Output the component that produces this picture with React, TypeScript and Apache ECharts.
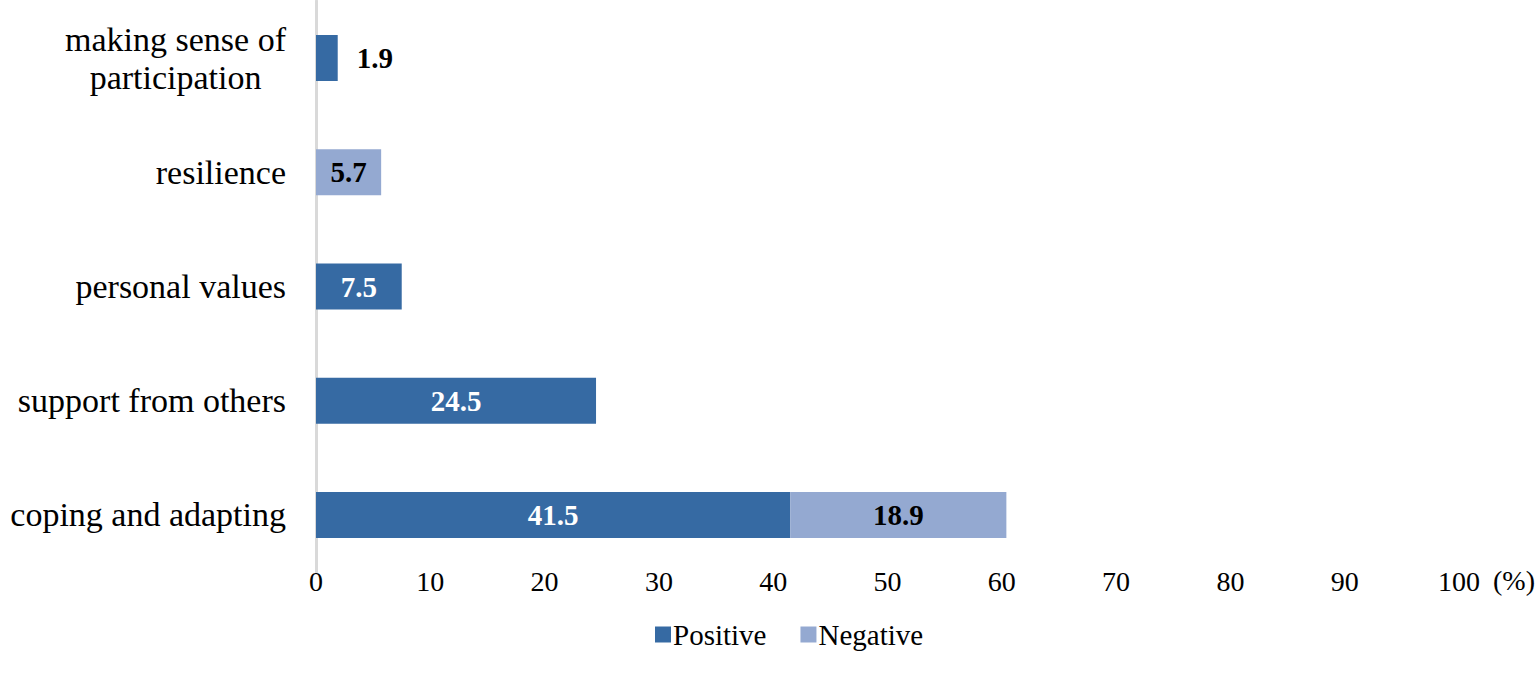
import React, { useEffect, useRef } from "react";
import * as echarts from "echarts";

const categories = [
  "making sense of\nparticipation",
  "resilience",
  "personal values",
  "support from others",
  "coping and adapting",
];
const positiveValues: (number | null)[] = [1.9, null, 7.5, 24.5, 41.5];
const negativeValues: (number | null)[] = [null, 5.7, null, null, 18.9];
const outsideLabelIndex = [0];
const seriesNames = ["Positive", "Negative"];
const unitLabel = "(%)";

const FONT = "'Liberation Serif', 'Times New Roman', Times, serif";
const DARK = "#366aa3";
const LIGHT = "#94a9d1";

export default function App() {
  const ref = useRef<HTMLDivElement>(null);
  useEffect(() => {
    document.body.style.margin = "0";
    const chart = echarts.init(ref.current!, null, { renderer: "svg" });
    const posData = positiveValues.map((v, i) =>
      v == null
        ? "-"
        : outsideLabelIndex.includes(i)
        ? { value: v, label: { position: "right", color: "#000", distance: 19 } }
        : v
    );
    const negData = negativeValues.map((v) => (v == null ? "-" : v));
    chart.setOption({
      animation: false,
      backgroundColor: "#fff",
      textStyle: { fontFamily: FONT },
      grid: { left: 316, right: 78, top: 1, bottom: 103, containLabel: false },
      legend: {
        data: seriesNames,
        left: 650,
        top: 615,
        itemWidth: 16,
        itemHeight: 16,
        itemGap: 34,
        icon: "rect",
        textStyle: { fontFamily: FONT, fontSize: 29, color: "#000", padding: [0, 0, 0, -3] },
      },
      graphic: [
        {
          type: "text",
          left: 1493,
          top: 566,
          style: {
            text: unitLabel,
            fontFamily: FONT,
            fontSize: 28,
            fill: "#000",
          },
        },
      ],
      xAxis: {
        type: "value",
        min: 0,
        max: 100,
        interval: 10,
        axisLine: { show: false },
        axisTick: { show: false },
        splitLine: { show: false },
        axisLabel: { fontFamily: FONT, fontSize: 28, color: "#000", margin: -5 },
      },
      yAxis: {
        type: "category",
        data: categories,
        inverse: true,
        axisLine: { show: true, lineStyle: { color: "#d9d9d9", width: 3 } },
        axisTick: { show: false },
        axisLabel: {
          margin: 30,
          color: "#000",
          formatter: (v: string) =>
            v
              .split("\n")
              .map((l) => `{c|${l}}`)
              .join("\n"),
          rich: {
            c: {
              align: "center",
              fontFamily: FONT,
              fontSize: 34,
              lineHeight: 38,
              color: "#000",
            },
          },
        },
      },
      series: [
        {
          name: seriesNames[0],
          type: "bar",
          stack: "total",
          barWidth: 46,
          data: posData,
          itemStyle: { color: DARK },
          label: {
            show: true,
            position: "inside",
            color: "#fff",
            fontFamily: FONT,
            fontSize: 29,
            fontWeight: "bold",
          },
        },
        {
          name: seriesNames[1],
          type: "bar",
          stack: "total",
          barWidth: 46,
          data: negData,
          itemStyle: { color: LIGHT },
          label: {
            show: true,
            position: "inside",
            color: "#000",
            fontFamily: FONT,
            fontSize: 29,
            fontWeight: "bold",
          },
        },
      ],
    });
    return () => chart.dispose();
  }, []);
  return (
    <div
      ref={ref}
      style={{ position: "fixed", left: 0, top: 0, width: 1537, height: 675 }}
    />
  );
}
